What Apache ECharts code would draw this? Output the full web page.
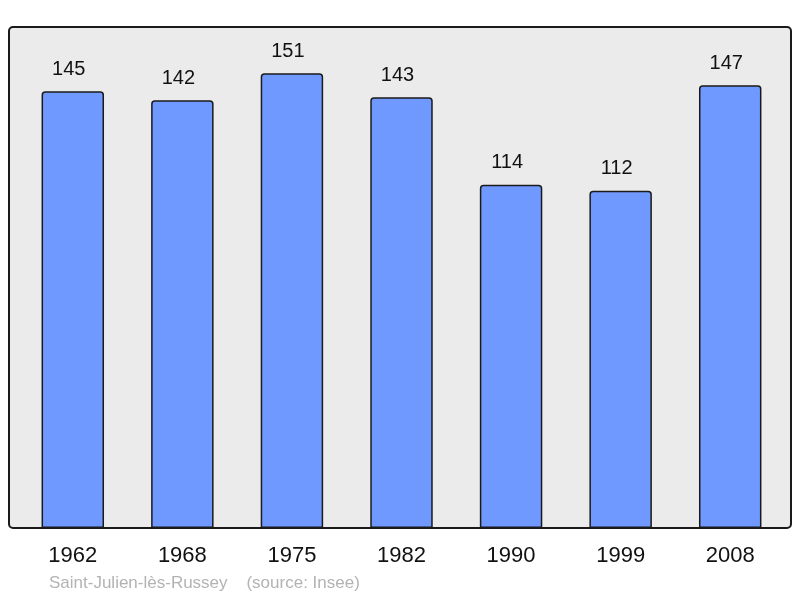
<!DOCTYPE html>
<html><head><meta charset="utf-8">
<script src="https://cdn.jsdelivr.net/npm/echarts@6/dist/echarts.min.js"></script>
<style>html,body{margin:0;padding:0;background:#fff}#c{width:800px;height:598px}</style>
</head><body><div id="c"></div>
<script>
var years = ['1962','1968','1975','1982','1990','1999','2008'];
var population = [145,142,151,143,114,112,147];
var footer = 'Saint-Julien-lès-Russey    (source: Insee)';

var chart = echarts.init(document.getElementById('c'), null, {renderer:'canvas'});
chart.setOption({
  animation:false,
  textStyle:{fontFamily:'Liberation Sans, Arial, sans-serif'},
  graphic:[
    {type:'rect', z:-10, shape:{x:9,y:27,width:782,height:501,r:4},
     style:{fill:'#ebebeb',stroke:'#1a1a1a',lineWidth:2}},
    {type:'text', left:49, top:575, z:10,
     style:{text:footer, fill:'#b3b3b3', font:'17px "Liberation Sans", Arial, sans-serif'}}
  ],
  grid:{left:18, right:15, top:28, bottom:70, containLabel:false},
  xAxis:{type:'category', data:years,
    axisLine:{show:false}, axisTick:{show:false},
    axisLabel:{color:'#111', fontSize:22, margin:17}},
  yAxis:{type:'value', min:0, max:166, show:false, splitLine:{show:false}},
  series:[{type:'bar', data:population, barWidth:'57%',
    itemStyle:{color:'#7099ff', borderColor:'#1a1a1a', borderWidth:1.5, borderRadius:[3,3,0,0]},
    label:{show:true, position:'top', distance:12, offset:[-4,0], color:'#111', fontSize:20}}]
});
</script></body></html>
